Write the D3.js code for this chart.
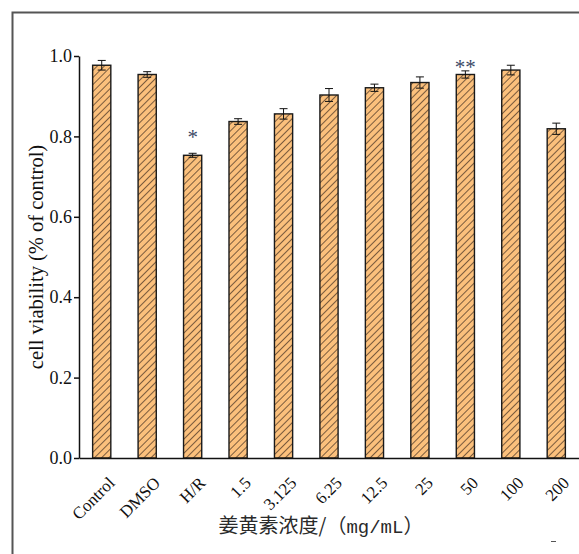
<!DOCTYPE html>
<html>
<head>
<meta charset="utf-8">
<script src="https://cdn.jsdelivr.net/npm/d3@7"></script>
<style>
  body { margin: 0; background: #fff; }
  svg { display: block; }
</style>
</head>
<body>
<svg id="chart" width="579" height="554"></svg>
<script>
// ---------------- data ----------------
const groups = ["Control", "DMSO", "H/R", "1.5", "3.125", "6.25", "12.5", "25", "50", "100", "200"];
const viability = [0.977, 0.954, 0.753, 0.837, 0.856, 0.903, 0.921, 0.934, 0.954, 0.965, 0.819];
const errors = [0.012, 0.007, 0.005, 0.007, 0.013, 0.016, 0.009, 0.014, 0.009, 0.012, 0.014];
const marks = ["", "", "*", "", "", "", "", "", "**", "", ""];
const yTicks = [0.0, 0.2, 0.4, 0.6, 0.8, 1.0];

const width = 579;
const height = 554;
const margin = { top: 56, right: 0, bottom: 96, left: 79 };

const svg = d3.select("#chart");

// hatch pattern for bars
const defs = svg.append("defs");
const pattern = defs.append("pattern")
    .attr("id", "hatch")
    .attr("patternUnits", "userSpaceOnUse")
    .attr("width", 5)
    .attr("height", 5)
    .attr("patternTransform", "rotate(45)");
pattern.append("rect")
    .attr("width", 5)
    .attr("height", 5)
    .attr("fill", "#fbc07c");
pattern.append("line")
    .attr("x1", 0).attr("y1", 0)
    .attr("x2", 0).attr("y2", 5)
    .attr("stroke", "#33241a")
    .attr("stroke-width", 1.3);

// outer frame
svg.append("path")
    .attr("d", "M12.5,554 L12.5,12.5 L579,12.5")
    .attr("fill", "none")
    .attr("stroke", "#555")
    .attr("stroke-width", 2);

const x = d3.scaleBand()
    .domain(groups)
    .range([margin.left, width - margin.right])
    .paddingInner(0.6)
    .paddingOuter(0.3);

const y = d3.scaleLinear()
    .domain([0, 1])
    .range([height - margin.bottom, margin.top]);

// bars
svg.append("g")
    .selectAll("rect")
    .data(groups)
    .join("rect")
    .attr("x", d => x(d))
    .attr("y", (d, i) => y(viability[i]))
    .attr("width", x.bandwidth())
    .attr("height", (d, i) => y(0) - y(viability[i]))
    .attr("fill", "url(#hatch)")
    .attr("stroke", "#1a1a1a")
    .attr("stroke-width", 1.4);

// error bars
const err = svg.append("g")
    .attr("stroke", "#111")
    .attr("stroke-width", 1);
groups.forEach((g, i) => {
    const cx = x(g) + x.bandwidth() / 2;
    const lo = y(viability[i] - errors[i]);
    const hi = y(viability[i] + errors[i]);
    err.append("line").attr("x1", cx).attr("x2", cx).attr("y1", lo).attr("y2", hi);
    err.append("line").attr("x1", cx - 4).attr("x2", cx + 4).attr("y1", lo).attr("y2", lo);
    err.append("line").attr("x1", cx - 4).attr("x2", cx + 4).attr("y1", hi).attr("y2", hi);
});

// significance marks
svg.append("g")
    .selectAll("text")
    .data(groups)
    .join("text")
    .attr("x", d => x(d) + x.bandwidth() / 2)
    .attr("y", (d, i) => y(viability[i] + errors[i]) + (marks[i] === "**" ? 3 : -9))
    .attr("text-anchor", "middle")
    .attr("font-family", "Liberation Serif, serif")
    .attr("font-size", 21)
    .attr("fill", "#3c4a66")
    .text((d, i) => marks[i]);

// y axis
const yAxis = svg.append("g")
    .attr("transform", `translate(${margin.left},0)`)
    .call(d3.axisLeft(y).tickValues(yTicks).tickFormat(d3.format(".1f")).tickSize(5).tickSizeOuter(0));
yAxis.select(".domain").attr("stroke", "#111").attr("stroke-width", 1.5);
yAxis.selectAll(".tick line").attr("stroke", "#111").attr("stroke-width", 1.5);
yAxis.selectAll(".tick text")
    .attr("font-family", "Liberation Serif, serif")
    .attr("font-size", 18)
    .attr("fill", "#111")
    .attr("x", -7);

// x axis
const xAxis = svg.append("g")
    .attr("transform", `translate(0,${y(0)})`)
    .call(d3.axisBottom(x).tickSize(0).tickSizeOuter(0));
xAxis.select(".domain").attr("stroke", "#111").attr("stroke-width", 1.5);
xAxis.selectAll(".tick text")
    .attr("font-family", "Liberation Serif, serif")
    .attr("font-size", 17)
    .attr("fill", "#111")
    .attr("text-anchor", "end")
    .attr("y", 0)
    .attr("dy", 0)
    .attr("transform", "translate(14,26) rotate(-45)");

// axis titles
svg.append("text")
    .attr("transform", `translate(43,${y(0.5)}) rotate(-90)`)
    .attr("text-anchor", "middle")
    .attr("font-family", "Liberation Serif, serif")
    .attr("font-size", 20.5)
    .attr("fill", "#111")
    .text("cell viability (% of control)");

const xTitle = svg.append("text")
    .attr("x", 321)
    .attr("y", 533)
    .attr("text-anchor", "middle")
    .attr("font-family", "Noto Sans CJK SC, sans-serif")
    .attr("font-size", 20)
    .attr("fill", "#2a2a2a");
xTitle.append("tspan").text("姜黄素浓度/（");
xTitle.append("tspan")
    .attr("font-family", "Liberation Mono, monospace")
    .attr("font-size", 19)
    .text("mg/mL");
xTitle.append("tspan").text("）");

// small dash near bottom right
svg.append("line")
    .attr("x1", 551).attr("x2", 556)
    .attr("y1", 541.5).attr("y2", 541.5)
    .attr("stroke", "#555")
    .attr("stroke-width", 1);
</script>
</body>
</html>
